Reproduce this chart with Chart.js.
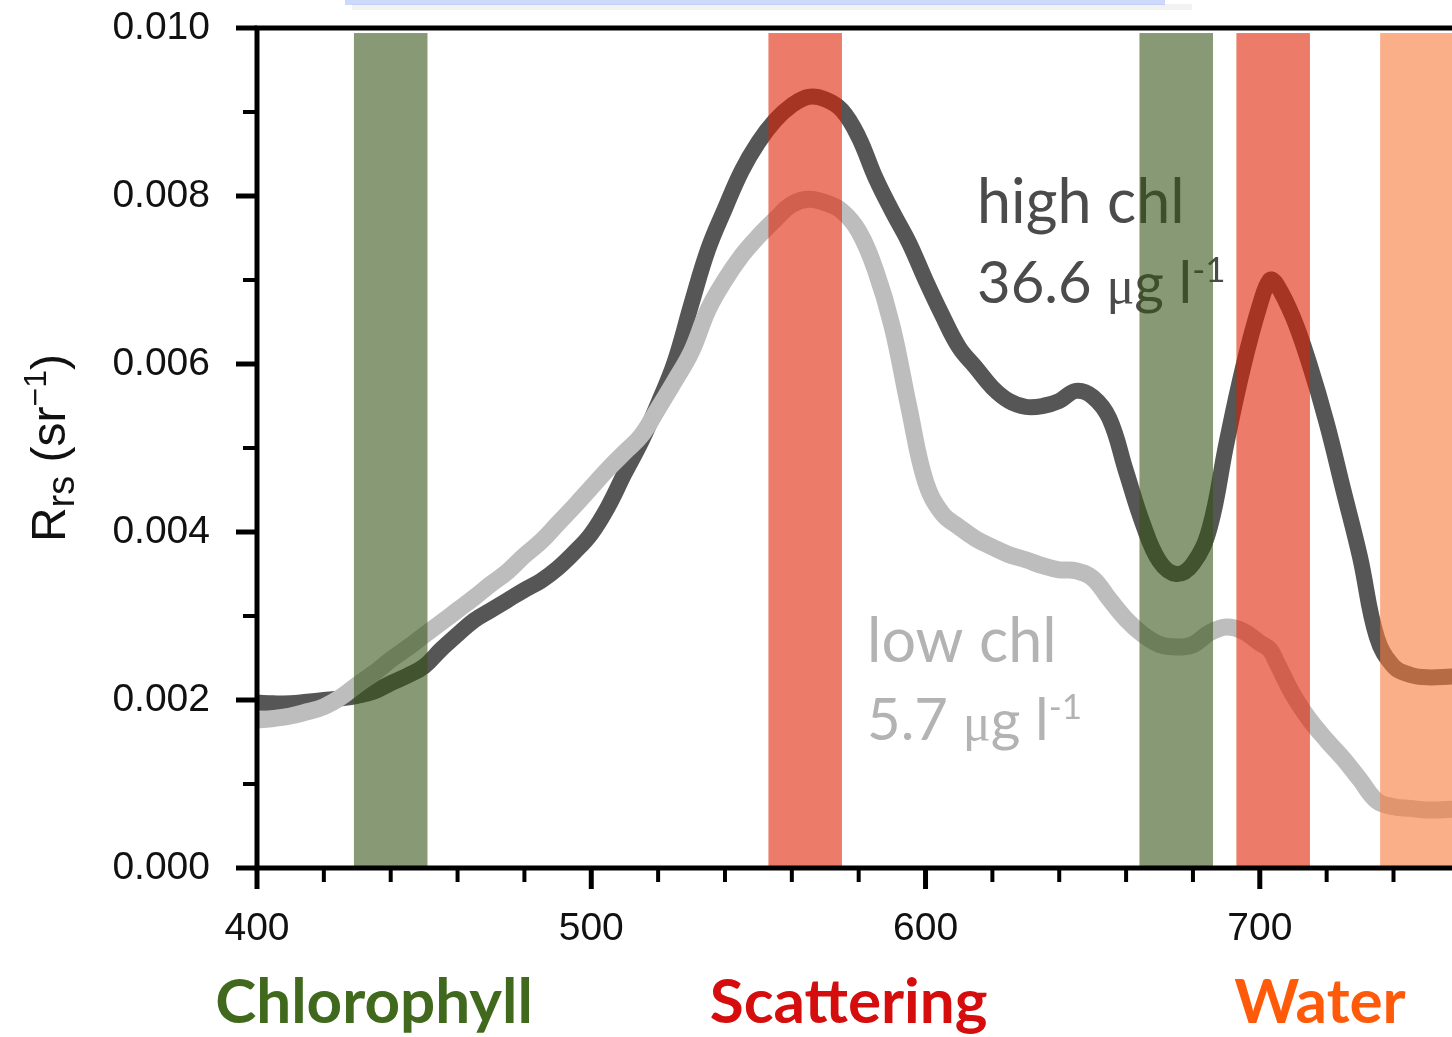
<!DOCTYPE html>
<html>
<head>
<meta charset="utf-8">
<style>
  html, body { margin: 0; padding: 0; background: #fff; overflow: hidden; }
  #wrap { width: 1452px; height: 1037px; position: relative; }
</style>
</head>
<body>
<div id="wrap"><canvas id="rrsChart"></canvas></div>
<script src="https://cdn.jsdelivr.net/npm/chart.js@4.4.1/dist/chart.umd.min.js"></script>
<script>
// wavelength (nm) and remote sensing reflectance (sr^-1) for the two stations
const wavelength = [400, 405, 410, 415, 420, 425, 430, 435, 440, 445, 450, 455, 460, 465, 470, 475, 480, 485, 490, 495,
  500, 505, 510, 515, 520, 525, 530, 535, 540, 545, 550, 555, 560, 565, 570, 575, 580, 585, 590, 595,
  600, 605, 610, 615, 620, 625, 630, 635, 640, 645, 650, 655, 660, 665, 670, 675, 680, 685, 690, 695,
  700, 703, 705, 710, 715, 720, 725, 730, 735, 740, 745, 750, 757.5];

const rrsHigh = [0.00197, 0.00196, 0.00196, 0.00198, 0.00200, 0.00202, 0.00205, 0.00210, 0.00220, 0.00229, 0.00240, 0.00260, 0.00278, 0.00295, 0.00307, 0.00319, 0.00331, 0.00342, 0.00357, 0.00376,
  0.00398, 0.00430, 0.00470, 0.00508, 0.00553, 0.00603, 0.00672, 0.00737, 0.00785, 0.00830, 0.00864, 0.00890, 0.00908, 0.00918, 0.00915, 0.00902, 0.00870, 0.00822, 0.00782, 0.00745,
  0.00700, 0.00658, 0.00620, 0.00596, 0.00572, 0.00556, 0.00549, 0.00550, 0.00556, 0.00568, 0.00561, 0.00535, 0.00472, 0.00410, 0.00365, 0.00350, 0.00362, 0.00405, 0.00505, 0.00596,
  0.00670, 0.00700, 0.00695, 0.00655, 0.00598, 0.00530, 0.00450, 0.00370, 0.00275, 0.00240, 0.00230, 0.00227, 0.00228];

const rrsLow = [0.00176, 0.00178, 0.00181, 0.00186, 0.00192, 0.00203, 0.00218, 0.00232, 0.00248, 0.00262, 0.00277, 0.00292, 0.00307, 0.00322, 0.00338, 0.00353, 0.00372, 0.00389, 0.00410, 0.00431,
  0.00453, 0.00475, 0.00495, 0.00515, 0.00547, 0.00580, 0.00615, 0.00665, 0.00700, 0.00729, 0.00752, 0.00772, 0.00790, 0.00796, 0.00792, 0.00782, 0.00758, 0.00712, 0.00645, 0.00549,
  0.00460, 0.00422, 0.00406, 0.00392, 0.00382, 0.00373, 0.00367, 0.00360, 0.00355, 0.00354, 0.00345, 0.00320, 0.00296, 0.00278, 0.00266, 0.00263, 0.00266, 0.00280, 0.00287, 0.00282,
  0.00268, 0.00260, 0.00245, 0.00206, 0.00176, 0.00152, 0.00130, 0.00105, 0.00080, 0.00073, 0.00071, 0.00069, 0.00070];

const xTicks = [400, 500, 600, 700];
const yTicks = [0, 0.002, 0.004, 0.006, 0.008, 0.010];

// absorption / scattering bands (nm)
const bandStart = [429, 553, 664, 693, 736];
const bandEnd = [451, 575, 686, 715, 758];
const bandColor = ['rgba(53,83,20,0.59)', 'rgba(225,31,0,0.59)', 'rgba(53,83,20,0.59)', 'rgba(225,31,0,0.59)', 'rgba(246,122,59,0.6)'];
const bandTop = 0.00994;

const regionNames = ['Chlorophyll', 'Scattering', 'Water'];
const regionCenter = [435, 577, 718];
const regionColor = ['#41691e', '#d50d0d', '#ff5a0a'];

const sans = '"Liberation Sans", Arial, sans-serif';
const note = 'Lato, "Open Sans", sans-serif';

function xy(ys) {
  return wavelength.map((w, i) => ({ x: w, y: ys[i] }));
}

function drawNote(ctx, x, y1, y2, name, amount, color) {
  ctx.save();
  ctx.fillStyle = color;
  ctx.textAlign = 'left';
  ctx.textBaseline = 'alphabetic';
  ctx.font = '61px ' + note;
  ctx.fillText(name, x, y1);
  let cx = x;
  const put = (txt, font, dy) => {
    ctx.font = font;
    ctx.fillText(txt, cx, y2 + dy);
    cx += ctx.measureText(txt).width;
  };
  put(amount + ' ', '58px ' + note, 0);
  put('\u03bc', '52px "Liberation Serif", serif', 0);
  put('g ', '57px ' + note, 0);
  put('l', '58px ' + note, 0);
  put('-1', '35px ' + note, -21);
  ctx.restore();
}

const overlays = {
  id: 'overlays',
  afterDatasetsDraw(chart) {
    const { ctx, chartArea: a, scales: { x, y } } = chart;
    drawNote(ctx, x.getPixelForValue(615.4), y.getPixelForValue(0.00768), y.getPixelForValue(0.00673),
      'high chl', '36.6', '#4b4b4b');
    drawNote(ctx, x.getPixelForValue(582.5), y.getPixelForValue(0.00245), y.getPixelForValue(0.00152),
      'low chl', '5.7', '#b3b3b3');

    // translucent bands sit on top of the spectra and labels
    ctx.save();
    ctx.beginPath();
    ctx.rect(a.left, a.top, a.right - a.left, a.bottom - a.top);
    ctx.clip();
    bandStart.forEach((s, i) => {
      const x0 = x.getPixelForValue(s), x1 = x.getPixelForValue(bandEnd[i]);
      const y0 = y.getPixelForValue(bandTop), y1 = y.getPixelForValue(0);
      ctx.fillStyle = bandColor[i];
      ctx.fillRect(x0, y0, x1 - x0, y1 - y0);
    });
    ctx.restore();
  },
  afterDraw(chart) {
    const { ctx, chartArea: a, scales: { x, y } } = chart;
    ctx.save();

    // faint strip of a clipped caption along the top edge
    ctx.fillStyle = 'rgba(0,0,0,0.05)';
    ctx.fillRect(352, 4, 840, 6);
    ctx.fillStyle = 'rgba(110,145,250,0.35)';
    ctx.fillRect(345, 0, 820, 5);

    ctx.strokeStyle = '#000';
    ctx.lineCap = 'butt';

    // frame: left, bottom and top
    ctx.lineWidth = 5;
    ctx.beginPath();
    ctx.moveTo(a.left, a.top - 2.5);
    ctx.lineTo(a.left, a.bottom);
    ctx.moveTo(a.left - 2.5, a.bottom);
    ctx.lineTo(a.right, a.bottom);
    ctx.moveTo(a.left - 2.5, a.top);
    ctx.lineTo(a.right, a.top);
    ctx.stroke();

    // y ticks (major every 0.002, minor between)
    for (let v = 0; v <= 10; v++) {
      const py = y.getPixelForValue(v / 1000);
      const major = v % 2 === 0;
      ctx.lineWidth = major ? 5 : 4;
      ctx.beginPath();
      ctx.moveTo(a.left, py);
      ctx.lineTo(a.left - (major ? 21 : 14), py);
      ctx.stroke();
    }
    // x ticks (major every 100 nm, minor every 20 nm)
    for (let w = 400; w <= 757; w += 20) {
      const px = x.getPixelForValue(w);
      const major = w % 100 === 0;
      ctx.lineWidth = major ? 5 : 4;
      ctx.beginPath();
      ctx.moveTo(px, a.bottom);
      ctx.lineTo(px, a.bottom + (major ? 21 : 14));
      ctx.stroke();
    }

    // y-axis title: R_rs (sr^-1)
    ctx.translate(65, 448);
    ctx.rotate(-Math.PI / 2);
    ctx.fillStyle = '#111';
    ctx.textBaseline = 'alphabetic';
    const parts = [['R', 48, 0], ['rs', 38, 9], [' (sr', 48, 0], ['\u22121', 32, -19], [')', 48, 0]];
    let total = 0;
    parts.forEach(p => { ctx.font = p[1] + 'px ' + sans; total += ctx.measureText(p[0]).width; });
    let cx = -total / 2;
    parts.forEach(p => {
      ctx.font = p[1] + 'px ' + sans;
      ctx.fillText(p[0], cx, p[2]);
      cx += ctx.measureText(p[0]).width;
    });
    ctx.restore();

    // region names under the axis
    ctx.save();
    ctx.textAlign = 'center';
    ctx.textBaseline = 'alphabetic';
    ctx.font = 'bold 62px ' + note;
    regionNames.forEach((n, i) => {
      ctx.fillStyle = regionColor[i];
      ctx.fillText(n, x.getPixelForValue(regionCenter[i]), 1023);
    });
    ctx.restore();
  }
};

new Chart('rrsChart', {
  type: 'line',
  data: {
    datasets: [
      {
        label: 'low chl',
        data: xy(rrsLow),
        borderColor: '#bdbdbd',
        borderWidth: 17,
        pointRadius: 0,
        tension: 0.4,
        borderJoinStyle: 'round',
        borderCapStyle: 'round',
        order: 0
      },
      {
        label: 'high chl',
        data: xy(rrsHigh),
        borderColor: '#565656',
        borderWidth: 16,
        pointRadius: 0,
        tension: 0.4,
        borderJoinStyle: 'round',
        borderCapStyle: 'round',
        order: 1
      }
    ]
  },
  options: {
    responsive: true,
    maintainAspectRatio: false,
    animation: false,
    layout: { padding: { top: 28, right: 0, left: 0, bottom: 0 } },
    plugins: {
      legend: { display: false },
      tooltip: { enabled: false }
    },
    scales: {
      x: {
        type: 'linear',
        min: 400,
        max: 757.5,
        grid: { display: false },
        border: { display: false },
        afterBuildTicks: s => { s.ticks = xTicks.map(v => ({ value: v })); },
        afterFit: s => { s.height = 169; },
        ticks: {
          color: '#111',
          font: { family: sans, size: 39 },
          padding: 30,
          maxRotation: 0,
          callback: v => String(v)
        }
      },
      y: {
        min: 0,
        max: 0.010,
        grid: { display: false },
        border: { display: false },
        afterBuildTicks: s => { s.ticks = yTicks.map(v => ({ value: v })); },
        afterFit: s => { s.width = 257; s.paddingTop = 0; s.paddingBottom = 0; },
        ticks: {
          color: '#111',
          font: { family: sans, size: 39 },
          padding: 39,
          callback: v => v.toFixed(3)
        }
      }
    }
  },
  plugins: [overlays]
});
</script>
</body>
</html>
